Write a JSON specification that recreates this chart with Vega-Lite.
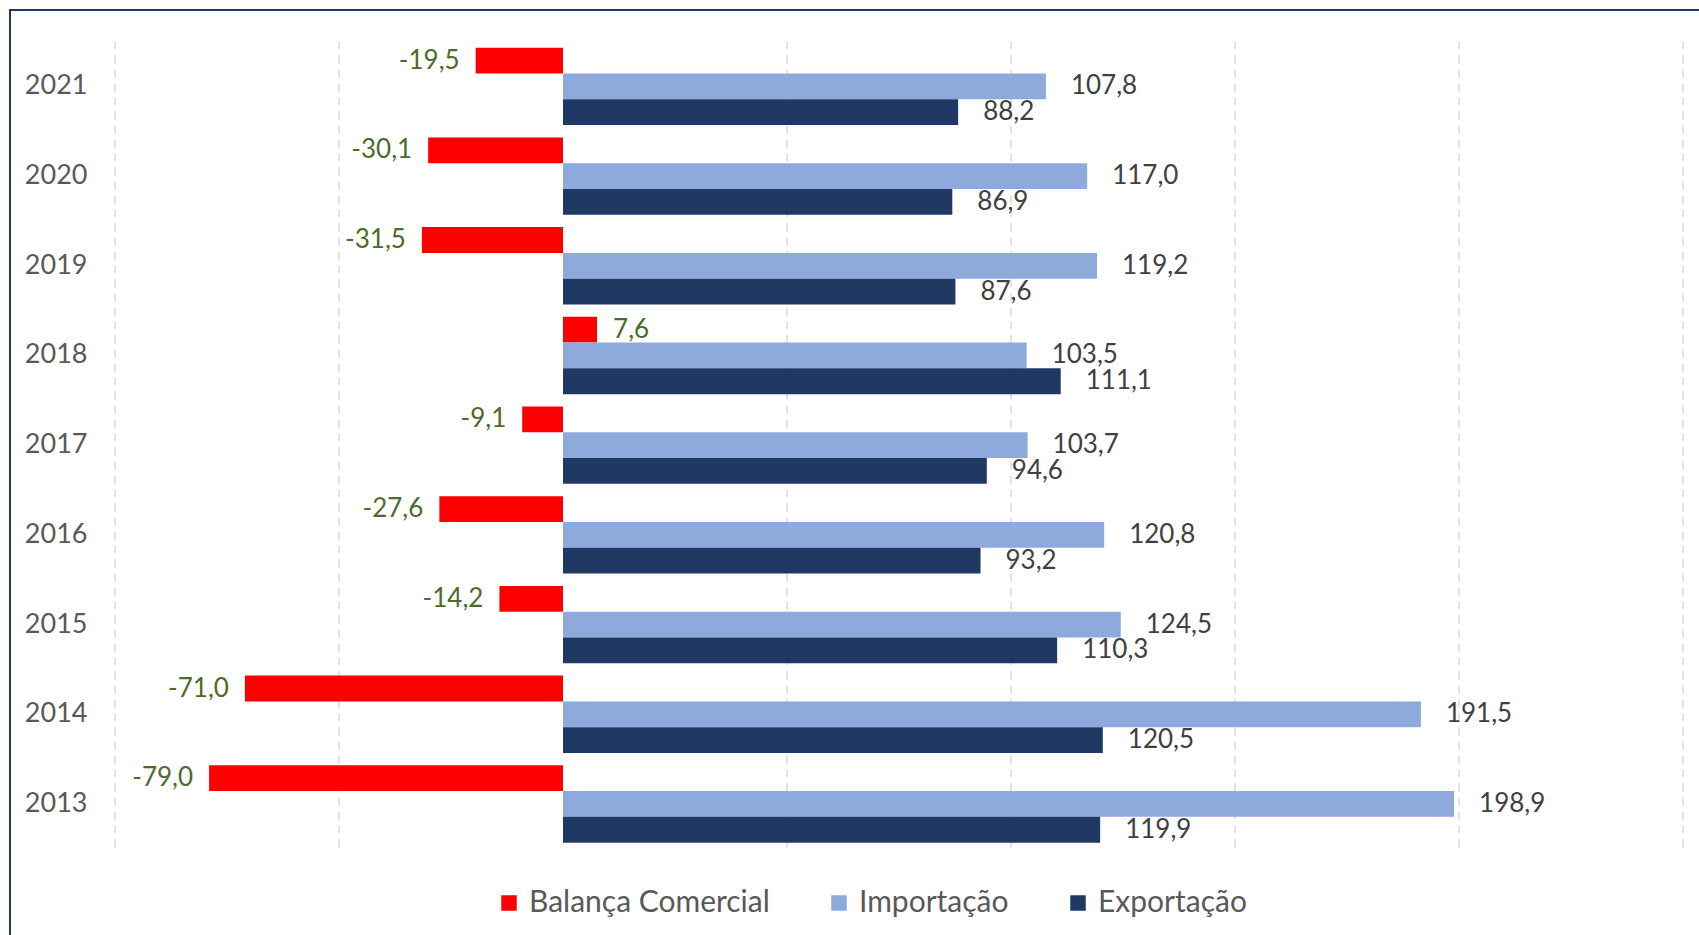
{
  "$schema": "https://vega.github.io/schema/vega-lite/v6.json",
  "autosize": "none",
  "padding": {"left": 10, "top": 10, "right": 0, "bottom": 0},
  "width": 1700,
  "height": 940,
  "background": "white",
  "config": {
    "view": {"stroke": "#1F3864", "strokeWidth": 2},
    "font": "Lato",
    "locale": {"number": {"decimal": ",", "thousands": ".", "grouping": [3], "currency": ["", ""], "minus": "-"}},
    "axisY": {"domain": false, "ticks": false, "tickSize": 0, "grid": false, "labelFontSize": 27, "labelColor": "#595959", "labelFont": "Lato", "labelPadding": 0, "offset": -77, "title": null}
  },
  "datasets": {
    "comercio": [
      {"ano": "2021", "serie": "Balança Comercial", "valor": -19.5},
      {"ano": "2021", "serie": "Importação", "valor": 107.8},
      {"ano": "2021", "serie": "Exportação", "valor": 88.2},
      {"ano": "2020", "serie": "Balança Comercial", "valor": -30.1},
      {"ano": "2020", "serie": "Importação", "valor": 117.0},
      {"ano": "2020", "serie": "Exportação", "valor": 86.9},
      {"ano": "2019", "serie": "Balança Comercial", "valor": -31.5},
      {"ano": "2019", "serie": "Importação", "valor": 119.2},
      {"ano": "2019", "serie": "Exportação", "valor": 87.6},
      {"ano": "2018", "serie": "Balança Comercial", "valor": 7.6},
      {"ano": "2018", "serie": "Importação", "valor": 103.5},
      {"ano": "2018", "serie": "Exportação", "valor": 111.1},
      {"ano": "2017", "serie": "Balança Comercial", "valor": -9.1},
      {"ano": "2017", "serie": "Importação", "valor": 103.7},
      {"ano": "2017", "serie": "Exportação", "valor": 94.6},
      {"ano": "2016", "serie": "Balança Comercial", "valor": -27.6},
      {"ano": "2016", "serie": "Importação", "valor": 120.8},
      {"ano": "2016", "serie": "Exportação", "valor": 93.2},
      {"ano": "2015", "serie": "Balança Comercial", "valor": -14.2},
      {"ano": "2015", "serie": "Importação", "valor": 124.5},
      {"ano": "2015", "serie": "Exportação", "valor": 110.3},
      {"ano": "2014", "serie": "Balança Comercial", "valor": -71.0},
      {"ano": "2014", "serie": "Importação", "valor": 191.5},
      {"ano": "2014", "serie": "Exportação", "valor": 120.5},
      {"ano": "2013", "serie": "Balança Comercial", "valor": -79.0},
      {"ano": "2013", "serie": "Importação", "valor": 198.9},
      {"ano": "2013", "serie": "Exportação", "valor": 119.9}
    ],
    "grade": [{"v": -100}, {"v": -50}, {"v": 50}, {"v": 100}, {"v": 150}, {"v": 200}, {"v": 250}]
  },
  "layer": [
    {
      "data": {"name": "grade"},
      "mark": {"type": "rule", "color": "#d9d9d9", "strokeWidth": 1.5, "strokeDash": [8, 6]},
      "encoding": {
        "x": {"field": "v", "type": "quantitative", "scale": {"domain": [-123.44, 256.03], "nice": false, "zero": false}, "axis": null},
        "y": {"datum": "2021", "type": "nominal", "bandPosition": -0.08},
        "y2": {"datum": "2013", "bandPosition": 1.08}
      }
    },
    {
      "data": {"name": "comercio"},
      "layer": [
        {
          "mark": {"type": "bar"},
          "encoding": {
            "color": {
              "field": "serie", "type": "nominal",
              "scale": {"domain": ["Balança Comercial", "Importação", "Exportação"], "range": ["#FF0000", "#8EA9DB", "#203864"]},
              "legend": {"orient": "none", "legendX": 484, "legendY": 878, "direction": "horizontal", "title": null, "symbolType": "square", "symbolSize": 240, "symbolStrokeWidth": 0, "labelFontSize": 30, "labelColor": "#595959", "labelFont": "Lato", "labelLimit": 0, "columnPadding": 54, "labelOffset": 5, "padding": 0}
            }
          }
        },
        {
          "transform": [{"filter": "datum.serie === 'Balança Comercial' && datum.valor < 0"}],
          "mark": {"type": "text", "align": "right", "baseline": "middle", "dx": -16, "fontSize": 26, "color": "#4d6b2b"},
          "encoding": {"text": {"field": "valor", "type": "quantitative", "format": ".1f"}}
        },
        {
          "transform": [{"filter": "datum.serie === 'Balança Comercial' && datum.valor >= 0"}],
          "mark": {"type": "text", "align": "left", "baseline": "middle", "dx": 16, "fontSize": 26, "color": "#4d6b2b"},
          "encoding": {"text": {"field": "valor", "type": "quantitative", "format": ".1f"}}
        },
        {
          "transform": [{"filter": "datum.serie !== 'Balança Comercial'"}],
          "mark": {"type": "text", "align": "left", "baseline": "middle", "dx": 25, "fontSize": 26, "color": "#404040"},
          "encoding": {"text": {"field": "valor", "type": "quantitative", "format": ".1f"}}
        }
      ],
      "encoding": {
        "y": {"field": "ano", "type": "nominal", "sort": "descending", "scale": {"paddingInner": 0.138, "paddingOuter": 0.8087, "align": 0.26}, "axis": {"title": null}},
        "yOffset": {"field": "serie", "type": "nominal", "sort": ["Balança Comercial", "Importação", "Exportação"], "scale": {"paddingInner": 0, "paddingOuter": 0}},
        "x": {"field": "valor", "type": "quantitative", "scale": {"domain": [-123.44, 256.03], "nice": false, "zero": false}, "axis": null}
      }
    },
    {
      "mark": {"type": "rule", "color": "#d9d9d9", "strokeWidth": 1.5},
      "encoding": {
        "x": {"datum": 0, "type": "quantitative"},
        "y": {"datum": "2021", "type": "nominal", "bandPosition": -0.08},
        "y2": {"datum": "2013", "bandPosition": 1.08}
      }
    }
  ]
}
